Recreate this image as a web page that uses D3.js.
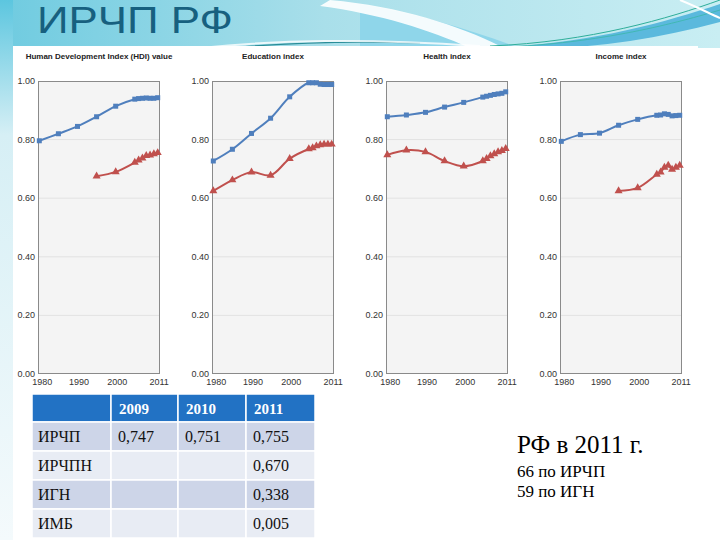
<!DOCTYPE html>
<html><head><meta charset="utf-8">
<script src="https://cdn.jsdelivr.net/npm/d3@7"></script>
<style>html,body{margin:0;padding:0;background:#fff;}svg{display:block;}</style>
</head><body>
<script>
// ---- data ----
const years = [1980,1985,1990,1995,2000,2005,2006,2007,2008,2009,2010,2011];
const panelTitles = ["Human Development Index (HDI) value","Education index","Health index","Income index"];
const hdiNorway    = [0.796,0.820,0.845,0.878,0.914,0.938,0.940,0.941,0.942,0.941,0.941,0.943];
const hdiRussia    = [null,null,null,0.675,0.690,0.722,0.730,0.737,0.745,0.747,0.751,0.755];
const eduNorway    = [0.727,0.767,0.821,0.873,0.946,0.994,0.994,0.994,0.989,0.988,0.988,0.988];
const eduRussia    = [0.625,0.662,0.689,0.678,0.735,0.768,0.772,0.778,0.782,0.784,0.784,0.784];
const healthNorway = [0.878,0.884,0.893,0.911,0.927,0.945,0.948,0.951,0.954,0.956,0.958,0.963];
const healthRussia = [0.748,0.764,0.758,0.727,0.709,0.727,0.735,0.744,0.751,0.758,0.762,0.769];
const incomeNorway = [0.794,0.817,0.822,0.849,0.869,0.883,0.884,0.888,0.886,0.881,0.882,0.883];
const incomeRussia = [null,null,null,0.625,0.635,0.681,0.689,0.705,0.712,0.698,0.705,0.712];
const yTicks = [0,0.2,0.4,0.6,0.8,1.0];
const xTicks = [1980,1990,2000,2011];

const slideTitle = "ИРЧП РФ";
const tableHeader = ["", "2009", "2010", "2011"];
const tableRowNames = ["ИРЧП","ИРЧПН","ИГН","ИМБ"];
const tableValues = [["0,747","0,751","0,755"],["","","0,670"],["","","0,338"],["","","0,005"]];
const noteTitle = "РФ в 2011 г.";
const noteLines = ["66 по ИРЧП","59 по ИГН"];

const panels = [
  {title: panelTitles[0], blue: hdiNorway, red: hdiRussia},
  {title: panelTitles[1], blue: eduNorway, red: eduRussia},
  {title: panelTitles[2], blue: healthNorway, red: healthRussia},
  {title: panelTitles[3], blue: incomeNorway, red: incomeRussia}
];

const W = 720, H = 540;
const svg = d3.select("body").append("svg").attr("width", W).attr("height", H);
const defs = svg.append("defs");

// ---- slide background ----
const g1 = defs.append("linearGradient").attr("id","topg").attr("x1","0").attr("x2","1").attr("y1","0").attr("y2","0");
g1.append("stop").attr("offset","0").attr("stop-color","#6fcbe0");
g1.append("stop").attr("offset","0.45").attr("stop-color","#a9dfea");
g1.append("stop").attr("offset","1").attr("stop-color","#c9eef3");
const g2 = defs.append("linearGradient").attr("id","leftg").attr("x1","0").attr("x2","0").attr("y1","0").attr("y2","1");
g2.append("stop").attr("offset","0").attr("stop-color","#5cc6df");
g2.append("stop").attr("offset","0.25").attr("stop-color","#d6eff5");
g2.append("stop").attr("offset","1").attr("stop-color","#f4fafc");

svg.append("rect").attr("x",0).attr("y",0).attr("width",W).attr("height",H).attr("fill","#ffffff");
svg.append("rect").attr("x",0).attr("y",0).attr("width",W).attr("height",48).attr("fill","url(#topg)");
svg.append("rect").attr("x",0).attr("y",0).attr("width",13).attr("height",H).attr("fill","url(#leftg)");
// waves
svg.append("path").attr("d","M360,4 C420,14 470,30 520,48 L360,48 Z").attr("fill","#8fd6ea");
svg.append("path").attr("d","M330,0 C400,6 460,26 500,46 L470,48 C430,30 380,14 320,6 Z").attr("fill","#ffffff").attr("opacity",0.9);
svg.append("path").attr("d","M480,48 C580,46 660,24 720,4 L720,22 C660,38 600,48 540,48 Z").attr("fill","#5bb9dd");
svg.append("path").attr("d","M490,46 C590,42 670,18 720,0").attr("fill","none").attr("stroke","#2fae9a").attr("stroke-width",1);
svg.append("path").attr("d","M500,47 C600,44 680,22 720,10").attr("fill","none").attr("stroke","#3ab8a8").attr("stroke-width",0.8);
svg.append("path").attr("d","M240,47 C300,42 360,41 420,43").attr("fill","none").attr("stroke","#2a8d98").attr("stroke-width",1.2);
svg.append("path").attr("d","M200,48 C280,40 360,38 480,46").attr("fill","none").attr("stroke","#ffffff").attr("stroke-width",2).attr("opacity",0.8);
svg.append("path").attr("d","M680,0 C700,8 710,14 720,18").attr("fill","none").attr("stroke","#ffffff").attr("stroke-width",2);
// chart image background
svg.append("rect").attr("x",13).attr("y",46).attr("width",685).attr("height",345).attr("fill","#ffffff");

// title
svg.append("text").attr("x",37).attr("y",33).attr("font-family","Liberation Sans, Arial, sans-serif")
  .attr("font-size",37).attr("fill","#17607f").attr("textLength",196).attr("lengthAdjust","spacingAndGlyphs")
  .text(slideTitle);

// ---- panels ----
const plotLefts = [38,212,386,560];
const plotW = 122, plotTop = 81, plotBottom = 374;
const y = d3.scaleLinear().domain([0,1]).range([plotBottom, plotTop]);
const blueC = "#4f7fbd", redC = "#c0504d";
const tri = d3.symbol().type(d3.symbolTriangle).size(28);

panels.forEach((p,i) => {
  const L = plotLefts[i];
  const x = d3.scaleLinear().domain([1979.66, 2011.6]).range([L, L+plotW]);
  const g = svg.append("g");
  g.append("text").attr("x", L+plotW/2).attr("y",59).attr("text-anchor","middle")
    .attr("font-family","Liberation Sans, Arial, sans-serif").attr("font-size",8).attr("font-weight","bold")
    .attr("fill","#222").text(p.title);
  g.append("rect").attr("x",L).attr("y",plotTop).attr("width",plotW).attr("height",plotBottom-plotTop)
    .attr("fill","#f4f4f4");
  g.selectAll(".grid").data(yTicks.filter(t=>t>0 && t<1)).join("line")
    .attr("x1",L).attr("x2",L+plotW).attr("y1",d=>y(d)).attr("y2",d=>y(d))
    .attr("stroke","#e2e2e2").attr("stroke-width",1);
  g.append("rect").attr("x",L+0.5).attr("y",plotTop+0.5).attr("width",plotW-1).attr("height",plotBottom-plotTop-1)
    .attr("fill","none").attr("stroke","#8a8a8a").attr("stroke-width",1);
  g.selectAll(".yl").data(yTicks).join("text")
    .attr("x",L-3).attr("y",d=>y(d)).attr("dy","0.33em").attr("text-anchor","end")
    .attr("font-family","Liberation Sans, Arial, sans-serif").attr("font-size",9).attr("fill","#333")
    .text(d=>d3.format(".2f")(d));
  g.selectAll(".xl").data(xTicks).join("text")
    .attr("x",(d,k)=>x(d)+(k===0?3:1.5)).attr("y",385).attr("text-anchor","middle")
    .attr("font-family","Liberation Sans, Arial, sans-serif").attr("font-size",9).attr("fill","#333")
    .text(d=>d);
  const line = d3.line().defined(d=>d[1]!=null).x(d=>x(d[0])).y(d=>y(d[1])).curve(d3.curveCatmullRom.alpha(0.5));
  const bd = years.map((yr,k)=>[yr,p.blue[k]]);
  const rd = years.map((yr,k)=>[yr,p.red[k]]);
  g.append("path").attr("d",line(bd)).attr("fill","none").attr("stroke",blueC).attr("stroke-width",2);
  g.append("path").attr("d",line(rd)).attr("fill","none").attr("stroke",redC).attr("stroke-width",2);
  g.selectAll(".bm").data(bd.filter(d=>d[1]!=null)).join("rect")
    .attr("x",d=>x(d[0])-2.5).attr("y",d=>y(d[1])-2.5).attr("width",5).attr("height",5).attr("fill",blueC);
  g.selectAll(".rm").data(rd.filter(d=>d[1]!=null)).join("path")
    .attr("d",tri).attr("transform",d=>`translate(${x(d[0])},${y(d[1])})`).attr("fill",redC);
});

// ---- table ----
const colX = [32,111,178,246,315];
const rowY = [394,422,451,480,509,538];
const rowFills = ["#2272c4","#cdd5e8","#e8ecf4","#cdd5e8","#e8ecf4"];
const tg = svg.append("g");
for (let r=0;r<5;r++){
  for (let c=0;c<4;c++){
    tg.append("rect").attr("x",colX[c]).attr("y",rowY[r]).attr("width",colX[c+1]-colX[c]).attr("height",rowY[r+1]-rowY[r])
      .attr("fill",rowFills[r]).attr("stroke","#ffffff").attr("stroke-width",1.5);
  }
}
tableHeader.forEach((t,c)=>{
  tg.append("text").attr("x",colX[c]+8).attr("y",414).attr("font-family","Liberation Serif, serif")
    .attr("font-size",15).attr("font-weight","bold").attr("fill","#ffffff").text(t);
});
tableRowNames.forEach((n,r)=>{
  const by = rowY[r+1]+20;
  tg.append("text").attr("x",colX[0]+6).attr("y",by).attr("font-family","Liberation Serif, serif")
    .attr("font-size",16).attr("fill","#111").text(n);
  tableValues[r].forEach((v,c)=>{
    tg.append("text").attr("x",colX[c+1]+7).attr("y",by).attr("font-family","Liberation Serif, serif")
      .attr("font-size",16).attr("fill","#111").text(v);
  });
});

// ---- note ----
svg.append("text").attr("x",517).attr("y",453).attr("font-family","Liberation Serif, serif")
  .attr("font-size",25).attr("fill","#000").text(noteTitle);
noteLines.forEach((t,k)=>{
  svg.append("text").attr("x",517).attr("y",477+k*20).attr("font-family","Liberation Serif, serif")
    .attr("font-size",17).attr("fill","#000").text(t);
});
</script>
</body></html>
